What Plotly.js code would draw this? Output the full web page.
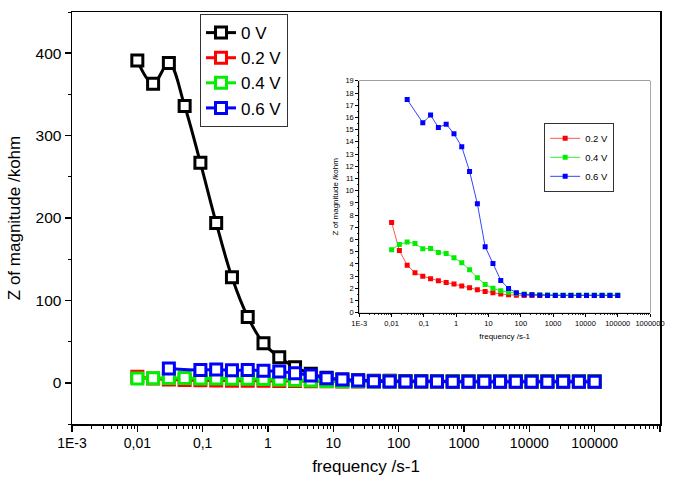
<!DOCTYPE html>
<html>
<head>
<meta charset="utf-8">
<script src="https://cdn.plot.ly/plotly-3.0.1.min.js"></script>
<style>html,body{margin:0;padding:0;background:#fff;}#chart{width:679px;height:481px;}</style>
</head>
<body>
<div id="chart"></div>
<script>
// ---- data ----
var freq = [0.01, 0.01743, 0.03039, 0.05298, 0.09237, 0.1610, 0.2807, 0.4894, 0.8532, 1.487,
            2.593, 4.520, 7.880, 13.74, 23.95, 41.75, 72.79, 126.9, 221.2, 385.7,
            672.4, 1172, 2044, 3563, 6212, 10830, 18880, 32910, 57380, 100000];
var z0V = [391, 363, 388, 336, 267, 194, 128, 80, 48, 31,
           19, 11, 6, 4, 3, 2.6, 2.4, 2.2, 2.1, 2.0,
           2.0, 1.9, 1.9, 1.9, 1.8, 1.8, 1.8, 1.8, 1.8, 1.8];
var z02V = [7.4, 5.1, 3.9, 3.28, 3.0, 2.78, 2.62, 2.48, 2.35, 2.2,
            2.05, 1.88, 1.75, 1.64, 1.53, 1.47, 1.43, 1.42, 1.42, 1.41,
            1.41, 1.41, 1.41, 1.41, 1.41, 1.41, 1.41, 1.41, 1.41, 1.41];
var z04V = [5.16, 5.6, 5.79, 5.68, 5.24, 5.27, 4.94, 4.86, 4.5, 4.1,
            3.52, 2.87, 2.32, 2.0, 1.8, 1.67, 1.6, 1.53, 1.5, 1.48,
            1.47, 1.46, 1.46, 1.45, 1.45, 1.45, 1.45, 1.45, 1.45, 1.45];
var freqBlue = [0.03039, 0.09237, 0.1610, 0.2807, 0.4894, 0.8532, 1.487, 2.593, 4.520, 7.880,
                13.74, 23.95, 41.75, 72.79, 126.9, 221.2, 385.7, 672.4, 1172, 2044,
                3563, 6212, 10830, 18880, 32910, 57380, 100000];
var z06V = [17.47, 15.56, 16.19, 15.18, 15.45, 14.66, 13.6, 11.58, 8.93, 5.41,
            4.04, 2.65, 1.99, 1.64, 1.5, 1.47, 1.44, 1.42, 1.42, 1.42,
            1.42, 1.42, 1.42, 1.42, 1.42, 1.42, 1.42];
var seriesNames = ['0 V', '0.2 V', '0.4 V', '0.6 V'];
var xTickVals = [0.001, 0.01, 0.1, 1, 10, 100, 1000, 10000, 100000, 1000000];
var xTickText = ['1E-3', '0,01', '0,1', '1', '10', '100', '1000', '10000', '100000', '1000000'];

// ---- styling ----
var FONT = 'Liberation Sans, Arial, sans-serif';
var minorX = [];
for (var d = -3; d < 6; d++) { for (var m = 2; m < 10; m++) { minorX.push(m * Math.pow(10, d)); } }

function mainTrace(x, y, name, color) {
  return {x: x, y: y, name: name, type: 'scatter', mode: 'lines+markers',
    xaxis: 'x', yaxis: 'y', legend: 'legend',
    line: {color: color, width: 3, shape: 'spline'},
    marker: {symbol: 'square', size: 11, color: 'white', line: {color: color, width: 3}}};
}
function insetTrace(x, y, name, color, lcolor) {
  return {x: x, y: y, name: name, type: 'scatter', mode: 'lines+markers',
    xaxis: 'x2', yaxis: 'y2', legend: 'legend2',
    line: {color: lcolor, width: 1},
    marker: {symbol: 'square', size: 5, color: color, line: {width: 0}}};
}

var traces = [
  mainTrace(freq, z0V, seriesNames[0], '#000000'),
  mainTrace(freq, z02V, seriesNames[1], '#ff0000'),
  mainTrace(freq, z04V, seriesNames[2], '#00ee00'),
  mainTrace(freqBlue, z06V, seriesNames[3], '#0000ff'),
  insetTrace(freq, z02V, seriesNames[1], '#ff0000', '#ff5555'),
  insetTrace(freq, z04V, seriesNames[2], '#00ee00', '#33ee33'),
  insetTrace(freqBlue, z06V, seriesNames[3], '#0000ff', '#3344ff')
];

var layout = {
  width: 679, height: 481,
  margin: {l: 72, r: 19, t: 12, b: 57},
  paper_bgcolor: '#fff', plot_bgcolor: '#fff',
  font: {family: FONT, color: '#000'},
  showlegend: true,
  xaxis: {
    type: 'log', range: [-3, 6], tickmode: 'array', tickvals: xTickVals, ticktext: xTickText,
    ticks: 'outside', ticklen: 6, tickwidth: 1.5, tickcolor: '#000',
    minor: {tickmode: 'array', tickvals: minorX, ticks: 'outside', ticklen: 3, tickwidth: 1, tickcolor: '#000'},
    showline: true, linewidth: 1.5, linecolor: '#000', mirror: true,
    showgrid: false, zeroline: false,
    tickfont: {size: 14, family: FONT},
    title: {text: 'frequency /s-1', font: {size: 17, family: FONT}, standoff: 10},
    automargin: false
  },
  yaxis: {
    range: [-50, 450], tick0: 0, dtick: 100,
    ticks: 'outside', ticklen: 6, tickwidth: 1.5, tickcolor: '#000',
    minor: {dtick: 50, ticks: 'outside', ticklen: 3, tickwidth: 1, tickcolor: '#000'},
    showline: true, linewidth: 1.5, linecolor: '#000', mirror: true,
    showgrid: false, zeroline: false,
    tickfont: {size: 15.5, family: FONT},
    title: {text: 'Z of magnitude /kohm', font: {size: 17, family: FONT}, standoff: 10},
    automargin: false
  },
  xaxis2: {
    domain: [0.4886, 0.983], anchor: 'y2',
    type: 'log', range: [-3, 6], tickmode: 'array', tickvals: xTickVals, ticktext: xTickText,
    ticks: 'outside', ticklen: 3, tickwidth: 1, tickcolor: '#000',
    minor: {tickmode: 'array', tickvals: minorX, ticks: 'outside', ticklen: 1.5, tickwidth: 0.8, tickcolor: '#000'},
    showline: true, linewidth: 1, linecolor: '#000',
    showgrid: false, zeroline: false,
    tickfont: {size: 7.5, family: FONT},
    title: {text: 'frequency /s-1', font: {size: 8, family: FONT}, standoff: 6},
    automargin: false
  },
  yaxis2: {
    domain: [0.270, 0.833], anchor: 'x2',
    range: [0, 19], tick0: 0, dtick: 1,
    ticks: 'outside', ticklen: 3, tickwidth: 1, tickcolor: '#000',
    minor: {dtick: 0.5, ticks: 'outside', ticklen: 1.5, tickwidth: 0.8, tickcolor: '#000'},
    showline: true, linewidth: 1, linecolor: '#000',
    showgrid: false, zeroline: false,
    tickfont: {size: 7.5, family: FONT},
    title: {text: 'Z of magnitude /kohm', font: {size: 8, family: FONT}, standoff: 5},
    automargin: false
  },
  shapes: [
    {type: 'rect', xref: 'x2 domain', yref: 'y2 domain', x0: 0, x1: 1, y0: 0, y1: 1,
     line: {color: '#555', width: 1}, fillcolor: 'rgba(0,0,0,0)', layer: 'below'}
  ],
  legend: {
    x: 0.2177, y: 0.995, xanchor: 'left', yanchor: 'top',
    bgcolor: '#fff', bordercolor: '#333', borderwidth: 1,
    font: {size: 17, family: FONT}, tracegroupgap: 0
  },
  legend2: {
    x: 0.803, y: 0.731, xanchor: 'left', yanchor: 'top',
    bgcolor: '#fff', bordercolor: '#333', borderwidth: 1,
    font: {size: 9.5, family: FONT}, tracegroupgap: 0
  }
};

Plotly.newPlot('chart', traces, layout, {displayModeBar: false, staticPlot: true});
</script>
</body>
</html>
